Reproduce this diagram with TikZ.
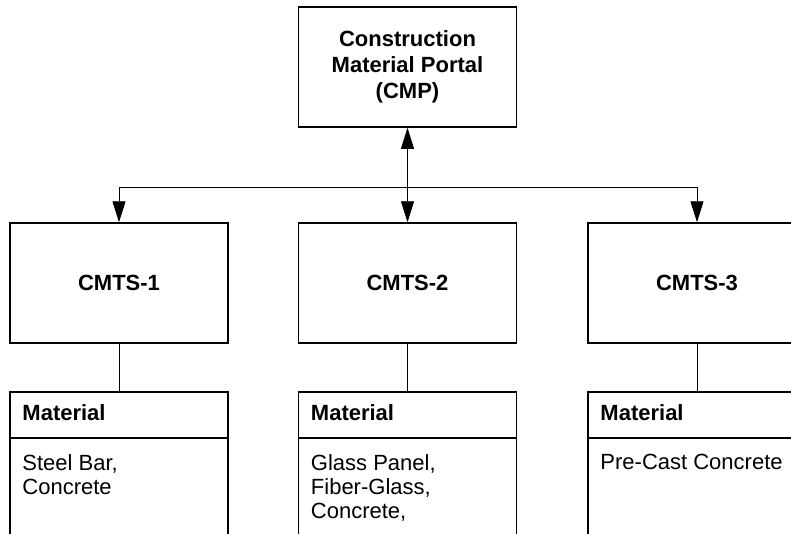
\documentclass[tikz,border=0pt]{standalone}
\usepackage{fontspec}
\setmainfont{Liberation Sans}
\usetikzlibrary{arrows.meta}
\begin{document}
\begin{tikzpicture}[x=1pt,y=-1pt,
  box/.style={draw, line width=1.5pt, minimum width=218pt, minimum height=120pt, inner sep=0pt,
    font=\bfseries\fontsize{22}{26}\selectfont, align=center},
  matbox/.style={draw, line width=1.5pt, minimum width=218pt, minimum height=200pt, inner sep=0pt, anchor=north},
  conn/.style={line width=0.9pt},
  arr/.style={conn, -{Triangle[length=21pt,width=13pt]}},
  dbl/.style={conn, {Triangle[length=21pt,width=13pt]}-{Triangle[length=21pt,width=13pt]}},
  head/.style={anchor=base west, inner sep=0pt, font=\bfseries\fontsize{22}{26}\selectfont},
  body/.style={anchor=north west, inner sep=0pt, align=left, font=\fontsize{22}{24}\selectfont}
]
\useasboundingbox (0,0) rectangle (791,533);
\clip (0,0) rectangle (791,533);
\fill[white] (0,0) rectangle (791,533);

\node[box] (cmp) at (407.5,67) {Construction\\Material Portal\\(CMP)};
\node[box] (c1) at (119,283) {CMTS-1};
\node[box] (c2) at (407.5,283) {CMTS-2};
\node[box] (c3) at (697,283) {CMTS-3};

\node[matbox] (m1) at (119,391) {};
\node[matbox] (m2) at (407.5,391) {};
\node[matbox] (m3) at (697,391) {};
\foreach \m in {m1,m2,m3}{
  \draw[line width=1.5pt] ([yshift=-47pt]\m.north west) -- ([yshift=-47pt]\m.north east);
}

\node[head] (h1) at ([xshift=13pt,yshift=-29pt]m1.north west) {Material};
\node[head] (h2) at ([xshift=13pt,yshift=-29pt]m2.north west) {Material};
\node[head] (h3) at ([xshift=13pt,yshift=-29pt]m3.north west) {Material};

\node[body] (b1) at ([xshift=13pt,yshift=-63pt]m1.north west) {Steel Bar,\\Concrete};
\node[body] (b2) at ([xshift=13pt,yshift=-63pt]m2.north west) {Glass Panel,\\Fiber-Glass,\\Concrete,};
\node[body] (b3) at ([xshift=13pt,yshift=-63pt]m3.north west) {Pre-Cast Concrete};

\coordinate (j) at (407.5,187);
\draw[dbl] (cmp.south) -- (c2.north);
\draw[arr] (j) -| (c1.north);
\draw[arr] (j) -| (c3.north);

\draw[conn] (c1.south) -- (m1.north);
\draw[conn] (c2.south) -- (m2.north);
\draw[conn] (c3.south) -- (m3.north);
\end{tikzpicture}
\end{document}
